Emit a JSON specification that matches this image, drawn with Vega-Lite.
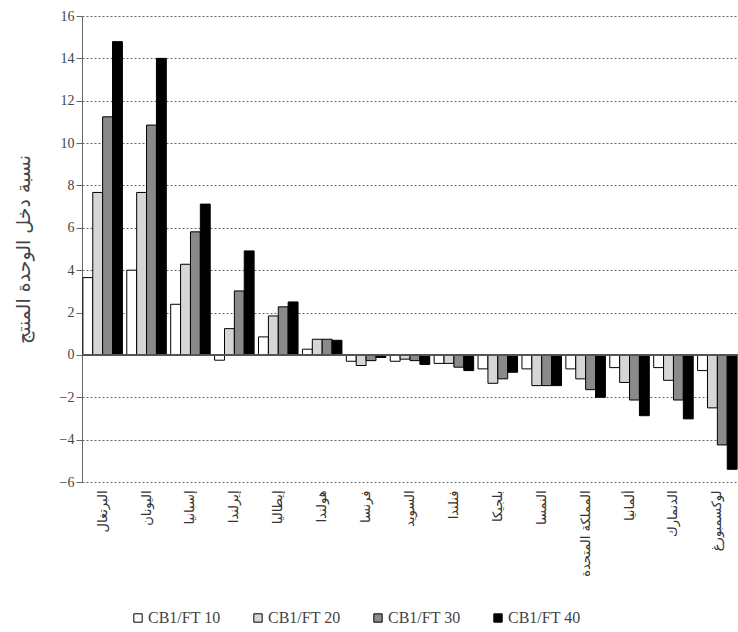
{
  "$schema": "https://vega.github.io/schema/vega-lite/v6.json",
  "autosize": {"type": "none"},
  "padding": {"left": 82, "top": 16, "right": 0, "bottom": 150},
  "width": 656,
  "height": 466,
  "background": "white",
  "config": {"view": {"stroke": null}},
  "data": {"values": [
    {"country": "البرتغال", "series": "CB1/FT 10", "value": 3.65},
    {"country": "البرتغال", "series": "CB1/FT 20", "value": 7.67},
    {"country": "البرتغال", "series": "CB1/FT 30", "value": 11.24},
    {"country": "البرتغال", "series": "CB1/FT 40", "value": 14.79},
    {"country": "اليونان", "series": "CB1/FT 10", "value": 4.0},
    {"country": "اليونان", "series": "CB1/FT 20", "value": 7.67},
    {"country": "اليونان", "series": "CB1/FT 30", "value": 10.85},
    {"country": "اليونان", "series": "CB1/FT 40", "value": 14.0},
    {"country": "إسبانيا", "series": "CB1/FT 10", "value": 2.39},
    {"country": "إسبانيا", "series": "CB1/FT 20", "value": 4.28},
    {"country": "إسبانيا", "series": "CB1/FT 30", "value": 5.81},
    {"country": "إسبانيا", "series": "CB1/FT 40", "value": 7.12},
    {"country": "إيرلندا", "series": "CB1/FT 10", "value": -0.25},
    {"country": "إيرلندا", "series": "CB1/FT 20", "value": 1.24},
    {"country": "إيرلندا", "series": "CB1/FT 30", "value": 3.02},
    {"country": "إيرلندا", "series": "CB1/FT 40", "value": 4.91},
    {"country": "إيطاليا", "series": "CB1/FT 10", "value": 0.85},
    {"country": "إيطاليا", "series": "CB1/FT 20", "value": 1.84},
    {"country": "إيطاليا", "series": "CB1/FT 30", "value": 2.27},
    {"country": "إيطاليا", "series": "CB1/FT 40", "value": 2.5},
    {"country": "هولندا", "series": "CB1/FT 10", "value": 0.27},
    {"country": "هولندا", "series": "CB1/FT 20", "value": 0.74},
    {"country": "هولندا", "series": "CB1/FT 30", "value": 0.74},
    {"country": "هولندا", "series": "CB1/FT 40", "value": 0.69},
    {"country": "فرنسا", "series": "CB1/FT 10", "value": -0.3},
    {"country": "فرنسا", "series": "CB1/FT 20", "value": -0.5},
    {"country": "فرنسا", "series": "CB1/FT 30", "value": -0.27},
    {"country": "فرنسا", "series": "CB1/FT 40", "value": -0.12},
    {"country": "السويد", "series": "CB1/FT 10", "value": -0.3},
    {"country": "السويد", "series": "CB1/FT 20", "value": -0.2},
    {"country": "السويد", "series": "CB1/FT 30", "value": -0.27},
    {"country": "السويد", "series": "CB1/FT 40", "value": -0.45},
    {"country": "فنلندا", "series": "CB1/FT 10", "value": -0.4},
    {"country": "فنلندا", "series": "CB1/FT 20", "value": -0.4},
    {"country": "فنلندا", "series": "CB1/FT 30", "value": -0.58},
    {"country": "فنلندا", "series": "CB1/FT 40", "value": -0.74},
    {"country": "بلجيكا", "series": "CB1/FT 10", "value": -0.66},
    {"country": "بلجيكا", "series": "CB1/FT 20", "value": -1.34},
    {"country": "بلجيكا", "series": "CB1/FT 30", "value": -1.13},
    {"country": "بلجيكا", "series": "CB1/FT 40", "value": -0.82},
    {"country": "النمسا", "series": "CB1/FT 10", "value": -0.66},
    {"country": "النمسا", "series": "CB1/FT 20", "value": -1.45},
    {"country": "النمسا", "series": "CB1/FT 30", "value": -1.45},
    {"country": "النمسا", "series": "CB1/FT 40", "value": -1.45},
    {"country": "المملكة المتحدة", "series": "CB1/FT 10", "value": -0.66},
    {"country": "المملكة المتحدة", "series": "CB1/FT 20", "value": -1.13},
    {"country": "المملكة المتحدة", "series": "CB1/FT 30", "value": -1.64},
    {"country": "المملكة المتحدة", "series": "CB1/FT 40", "value": -2.0},
    {"country": "ألمانيا", "series": "CB1/FT 10", "value": -0.6},
    {"country": "ألمانيا", "series": "CB1/FT 20", "value": -1.3},
    {"country": "ألمانيا", "series": "CB1/FT 30", "value": -2.13},
    {"country": "ألمانيا", "series": "CB1/FT 40", "value": -2.87},
    {"country": "الدنمارك", "series": "CB1/FT 10", "value": -0.6},
    {"country": "الدنمارك", "series": "CB1/FT 20", "value": -1.2},
    {"country": "الدنمارك", "series": "CB1/FT 30", "value": -2.13},
    {"country": "الدنمارك", "series": "CB1/FT 40", "value": -3.02},
    {"country": "لوكسمبورغ", "series": "CB1/FT 10", "value": -0.74},
    {"country": "لوكسمبورغ", "series": "CB1/FT 20", "value": -2.5},
    {"country": "لوكسمبورغ", "series": "CB1/FT 30", "value": -4.25},
    {"country": "لوكسمبورغ", "series": "CB1/FT 40", "value": -5.4}
  ]},
  "layer": [
    {
      "mark": {"type": "bar", "stroke": "black", "strokeWidth": 1},
      "encoding": {
        "x": {
          "field": "country", "type": "nominal", "sort": null,
          "scale": {"paddingInner": 0.1, "paddingOuter": 0.02},
          "axis": {
            "title": null, "labelAngle": -90, "labelFont": "DejaVu Sans", "labelFontSize": 13,
            "labelColor": "#333", "domain": false, "ticks": false, "labelPadding": 8
          }
        },
        "xOffset": {"field": "series", "type": "nominal"},
        "y": {
          "field": "value", "type": "quantitative",
          "scale": {"domain": [-6, 16], "nice": false},
          "axis": {
            "values": [-6, -4, -2, 0, 2, 4, 6, 8, 10, 12, 14, 16],
            "title": "نسبة دخل الوحدة المنتج", "titleFont": "DejaVu Sans", "titleFontSize": 19,
            "titleFontWeight": "normal", "titleColor": "#444", "titlePadding": 26,
            "labelFont": "Liberation Serif", "labelFontSize": 14, "labelColor": "#444",
            "domainColor": "#666", "tickColor": "#666", "tickSize": 6,
            "grid": true, "gridColor": "#666", "gridDash": [2, 2], "gridWidth": 1
          }
        },
        "fill": {
          "field": "series", "type": "nominal",
          "scale": {"domain": ["CB1/FT 10", "CB1/FT 20", "CB1/FT 30", "CB1/FT 40"], "range": ["#ffffff", "#d6d6d6", "#8a8a8a", "#000000"]},
          "legend": {
            "title": null, "orient": "none", "legendX": 48, "legendY": 594, "direction": "horizontal",
            "symbolType": "square", "symbolSize": 70, "symbolStrokeColor": "black", "symbolStrokeWidth": 1,
            "labelFont": "Liberation Serif", "labelFontSize": 16, "labelColor": "#444", "labelOffset": 2,
            "columnPadding": 29, "symbolOpacity": 1
          }
        }
      }
    },
    {
      "mark": {"type": "rule", "color": "#555", "strokeWidth": 1},
      "encoding": {"y": {"datum": 0}}
    }
  ]
}
